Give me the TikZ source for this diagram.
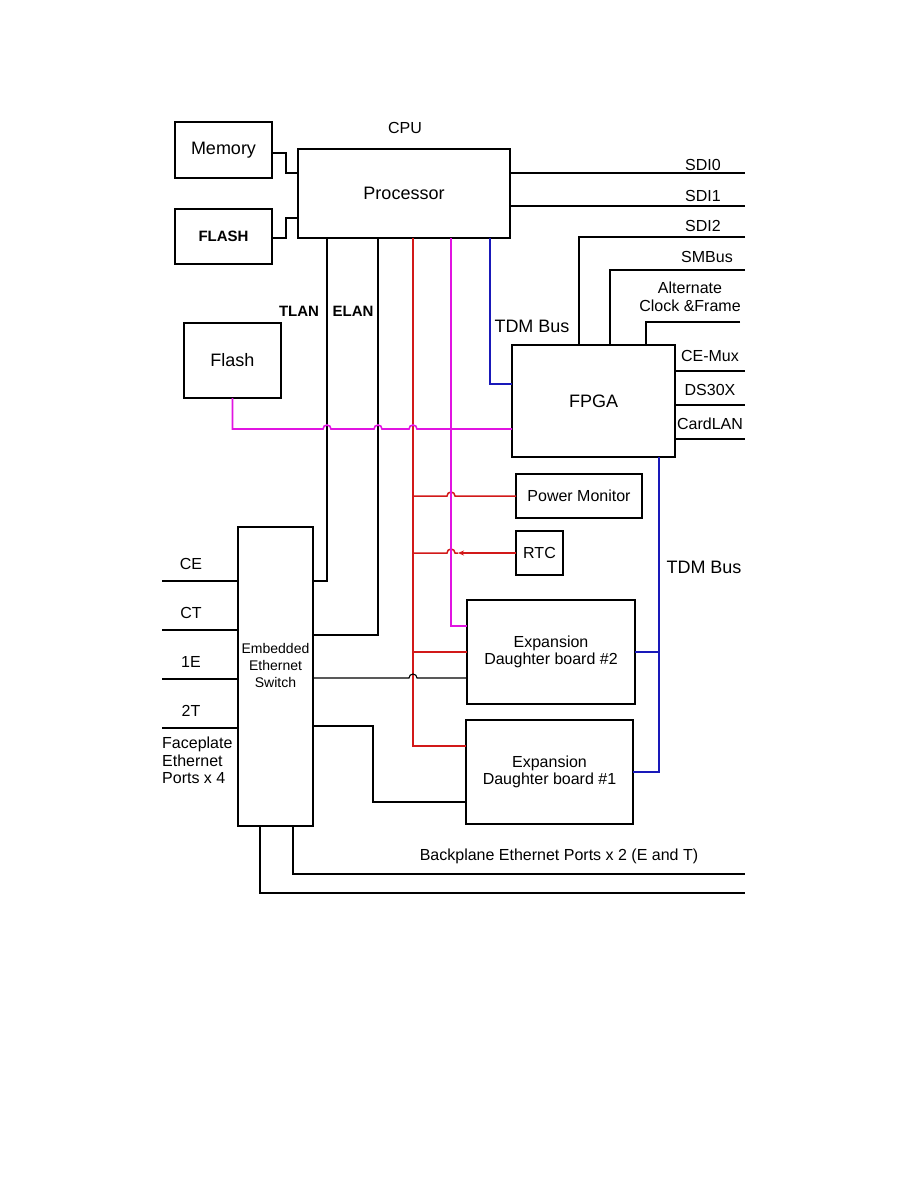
\documentclass[tikz,border=0pt]{standalone}
\usepackage{fontspec}
\setmainfont{Liberation Sans}
\usetikzlibrary{arrows.meta}
\definecolor{redbus}{RGB}{210,25,25}
\definecolor{magbus}{RGB}{225,20,225}
\definecolor{tdmblue}{RGB}{25,25,185}
\tikzset{
  blok/.style={draw, line width=1.8pt, inner sep=0pt, outer sep=0pt, align=center},
  wire/.style={line width=1.8pt},
  thinwire/.style={line width=1.1pt},
  pwrbus/.style={draw=redbus, line width=1.5pt},
  sigbus/.style={draw=magbus, line width=1.6pt},
  tdm/.style={draw=tdmblue, line width=1.6pt},
  lbl/.style={font=\fontsize{16}{17.5}\selectfont, inner sep=0pt, align=center},
  boldlbl/.style={font=\bfseries\fontsize{15}{17}\selectfont, inner sep=0pt},
  biglbl/.style={font=\fontsize{18}{21}\selectfont, inner sep=0pt},
}
\newcommand{\hop}{arc[start angle=180,end angle=360,radius=4]}
\begin{document}
\begin{tikzpicture}[x=1pt,y=-1pt]
\useasboundingbox (0,0) rectangle (918,1188);
% blocks
\node[blok, biglbl, minimum width=97, minimum height=56] (mem) at (223.5,150) {Memory};
\node[blok, boldlbl, minimum width=97, minimum height=55] (flashA) at (223.5,236.5) {FLASH};
\node[blok, biglbl, minimum width=212, minimum height=89] (cpu) at (404,193.5) {Processor};
\node[lbl] (cpulbl) at (405,128) {CPU};
\node[blok, biglbl, minimum width=97, minimum height=75] (flashB) at (232.5,360.5) {Flash};
\node[blok, biglbl, minimum width=163, minimum height=112] (fpga) at (593.5,401) {FPGA};
\node[blok, lbl, minimum width=126, minimum height=44] (pwr) at (579,496) {Power Monitor};
\node[blok, lbl, minimum width=47, minimum height=44] (rtc) at (539.5,553) {RTC};
\node[blok, minimum width=75, minimum height=299] (sw) at (275.5,676.5) {};
\node[font=\fontsize{14}{17}\selectfont, align=center, inner sep=0pt] (swlbl) at (275.5,665) {Embedded\\Ethernet\\Switch};
\node[blok, lbl, minimum width=168, minimum height=104] (exp2) at (551,652) {Expansion\\Daughter board \#2};
\node[blok, lbl, minimum width=167, minimum height=104] (exp1) at (549.5,772) {Expansion\\Daughter board \#1};
% memory and FLASH to processor
\draw[wire] (mem.east |- 0,153) -- ++(14,0) |- (cpu.west |- 0,173);
\draw[wire] (flashA.east |- 0,238) -- ++(14,0) |- (cpu.west |- 0,218);
% serial lines
\coordinate (sdi0) at (745,173); \draw[wire] (cpu.east |- sdi0) -- (sdi0); \node[lbl] (lsdi0) at (703,165) {SDI0};
\coordinate (sdi1) at (745,206); \draw[wire] (cpu.east |- sdi1) -- (sdi1); \node[lbl] (lsdi1) at (703,196) {SDI1};
\coordinate (sdi2) at (745,237); \draw[wire] (sdi2) -| (579,0 |- fpga.north); \node[lbl] (lsdi2) at (703,226) {SDI2};
\coordinate (smbus) at (745,270); \draw[wire] (smbus) -| (610,0 |- fpga.north); \node[lbl] (lsmbus) at (707,257) {SMBus};
\coordinate (altclk) at (740,322); \draw[wire] (altclk) -| (646,0 |- fpga.north); \node[lbl] (laltclk) at (690,297) {Alternate\\Clock \&Frame};
\foreach \nm/\yy/\tx in {cemux/371/CE-Mux, ds30x/405/DS30X, cardlan/439/CardLAN} {\coordinate (\nm) at (745,\yy); \draw[wire] (fpga.east |- \nm) -- (\nm); \node[lbl] at (710,\yy-15) {\tx};}
% TDM bus
\draw[tdm] (cpu.south -| 490,0) |- (fpga.west |- 0,384);
\node[biglbl] (ltdm1) at (532,326) {TDM Bus};
\draw[tdm] (fpga.south -| 659,0) |- (exp1.east);
\draw[tdm] (exp2.east) -- (exp2.east -| 659,0);
\node[biglbl] (ltdm2) at (704,567) {TDM Bus};
% LAN links
\draw[wire] (cpu.south -| 327,0) |- (sw.east |- 0,581);
\draw[wire] (cpu.south -| 378,0) |- (sw.east |- 0,635);
\node[boldlbl] (ltlan) at (299,311) {TLAN};
\node[boldlbl] (lelan) at (353,311) {ELAN};
% red bus
\coordinate (redtop) at (cpu.south -| 413,0);
\draw[pwrbus] (redtop) |- (exp1.west |- 0,746);
\draw[pwrbus] (redtop |- pwr.west) -- (447,0 |- pwr.west) \hop -- (pwr.west);
\draw[pwrbus] (redtop |- rtc.west) -- (447,0 |- rtc.west) \hop -- ++(3,0);
\draw[pwrbus, line width=2pt, -{Stealth[length=6pt,width=5pt]}] (rtc.west) -- ++(-58,0);
\draw[pwrbus] (redtop |- exp2.west) -- (exp2.west);
% magenta bus
\coordinate (magtop) at (cpu.south -| 451,0);
\draw[sigbus] (magtop) |- (exp2.west |- 0,626);
\draw[sigbus] (flashB.south) |- (323,429) \hop -- (374,429) \hop -- (409,429) \hop -- (fpga.west |- 0,429);
% switch to daughter boards
\draw[thinwire] (sw.east |- 0,678) -- (409,678) \hop -- (exp2.west |- 0,678);
\draw[wire] (sw.east |- 0,726) -| (373,802) -- (exp1.west |- 0,802);
% faceplate ports
\foreach \p/\yy in {CE/581, CT/630, 1E/679, 2T/728} {\coordinate (p\p) at (162,\yy); \draw[wire] (p\p) -- (sw.west |- p\p); \node[lbl] at (191,\yy-17) {\p};}
\node[lbl, align=left, anchor=north west] (lface) at (162,737) {Faceplate\\Ethernet\\Ports x 4};
% backplane ports
\coordinate (bpE) at (745,874); \coordinate (bpT) at (745,893);
\draw[wire] (sw.south -| 293,0) |- (bpE);
\draw[thinwire] (sw.south -| 260,0) |- (bpT);
\node[lbl] (lbp) at (559,856) {Backplane Ethernet Ports x 2 (E and T)};
\end{tikzpicture}
\end{document}
